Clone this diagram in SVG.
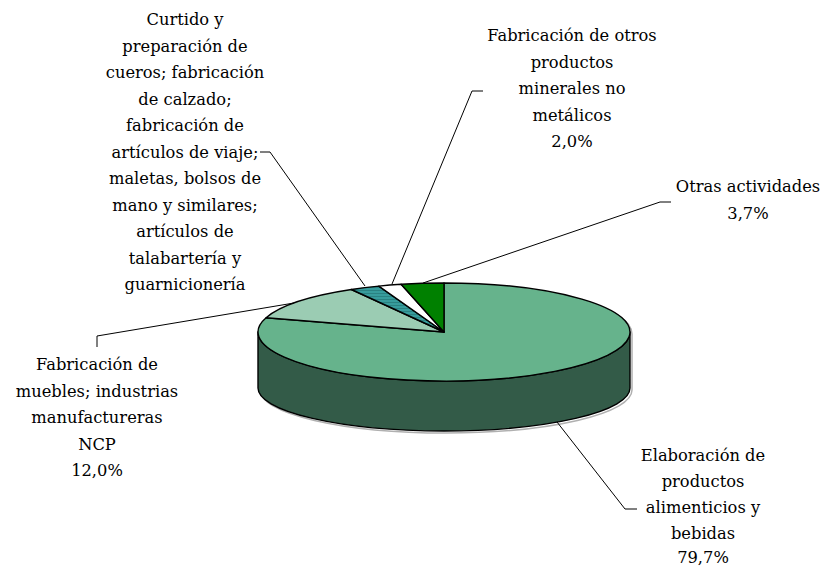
<svg xmlns="http://www.w3.org/2000/svg" width="823" height="567" viewBox="0 0 823 567">
<style>
.lbl{font-family:"DejaVu Serif","Liberation Serif",serif;font-size:16.3px;fill:#000;text-anchor:middle}
.edge{stroke:#000;stroke-width:1.4;stroke-linejoin:round}
.lead{fill:none;stroke:#000;stroke-width:1}
</style>
<defs>
<pattern id="teal" width="4" height="3" patternUnits="userSpaceOnUse">
<rect width="4" height="3" fill="#379c9c"/>
<rect y="2" width="4" height="1" fill="#2a8282"/>
</pattern>
</defs>
<rect width="823" height="567" fill="#fff"/>
<g id="shadow">
<path d="M260,334 A186,49 0 0 1 632,334 L632,390 A186,43 0 0 1 260,390 Z" fill="none" stroke="#b0b0b0" stroke-width="1.5"/>
</g>
<g id="pie">
<path class="edge" d="M630,332 L630,388 A186,43 0 0 1 258,388 L258,332 A186,49 0 0 0 630,332 Z" fill="#335b48"/>
<path id="s-elaboracion" class="edge" d="M444,332 L444,283 A186,49 0 1 1 266.1,317.7 Z" fill="#66b38c"/>
<path id="s-muebles" class="edge" d="M444,332 L266.1,317.7 A186,49 0 0 1 351.4,289.5 Z" fill="#9bccb3"/>
<path id="s-curtido" class="edge" d="M444,332 L351.4,289.5 A186,49 0 0 1 378.8,286.1 Z" fill="url(#teal)"/>
<path id="s-minerales" class="edge" d="M444,332 L378.8,286.1 A186,49 0 0 1 401.1,284.3 Z" fill="#ffffff"/>
<path id="s-otras" class="edge" d="M444,332 L401.1,284.3 A186,49 0 0 1 444,283 Z" fill="#008000"/>
</g>
<g id="connectors">
<path class="lead" d="M260,152 L270,152 L365,286"/>
<path class="lead" d="M483,91 L472,91 L392,284"/>
<path class="lead" d="M671,202 L660,202 L423,283"/>
<path class="lead" d="M97,347 L97,336 L294,303"/>
<path class="lead" d="M557,422 L625,509 L637,509"/>
</g>
<g id="label-curtido">
<text class="lbl" x="185" y="25">Curtido y</text>
<text class="lbl" x="185" y="51.5">preparación de</text>
<text class="lbl" x="185" y="78">cueros; fabricación</text>
<text class="lbl" x="185" y="104.5">de calzado;</text>
<text class="lbl" x="185" y="131">fabricación de</text>
<text class="lbl" x="185" y="157.5">artículos de viaje;</text>
<text class="lbl" x="185" y="184">maletas, bolsos de</text>
<text class="lbl" x="185" y="210.5">mano y similares;</text>
<text class="lbl" x="185" y="237">artículos de</text>
<text class="lbl" x="185" y="263.5">talabartería y</text>
<text class="lbl" x="185" y="290">guarnicionería</text>
</g>
<g id="label-minerales">
<text class="lbl" x="572" y="41">Fabricación de otros</text>
<text class="lbl" x="572" y="67.5">productos</text>
<text class="lbl" x="572" y="94">minerales no</text>
<text class="lbl" x="572" y="120.5">metálicos</text>
<text class="lbl" x="572" y="147">2,0%</text>
</g>
<g id="label-otras">
<text class="lbl" x="748" y="192">Otras actividades</text>
<text class="lbl" x="748" y="218.5">3,7%</text>
</g>
<g id="label-muebles">
<text class="lbl" x="97" y="370">Fabricación de</text>
<text class="lbl" x="97" y="396.5">muebles; industrias</text>
<text class="lbl" x="97" y="423">manufactureras</text>
<text class="lbl" x="97" y="449.5">NCP</text>
<text class="lbl" x="97" y="476">12,0%</text>
</g>
<g id="label-elaboracion">
<text class="lbl" x="703" y="461">Elaboración de</text>
<text class="lbl" x="703" y="487">productos</text>
<text class="lbl" x="703" y="513">alimenticios y</text>
<text class="lbl" x="703" y="539">bebidas</text>
<text class="lbl" x="703" y="563">79,7%</text>
</g>
</svg>
